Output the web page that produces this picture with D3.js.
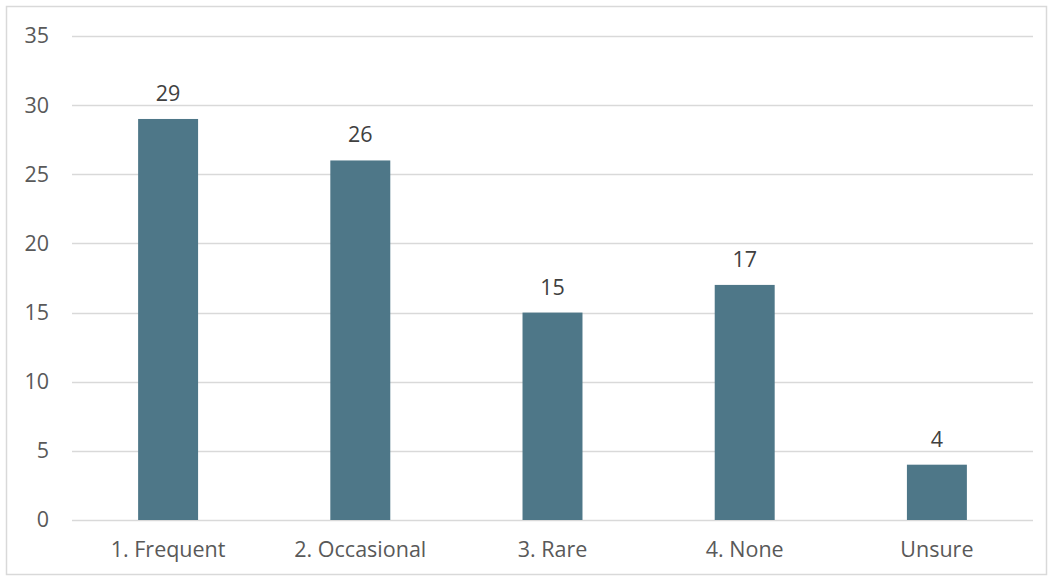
<!DOCTYPE html>
<html><head><meta charset="utf-8">
<script src="https://cdn.jsdelivr.net/npm/d3@7"></script>
<style>body{margin:0;background:#fff}svg{display:block}</style>
</head><body><svg id="c" width="1050" height="578"></svg>
<script>
const categories = ["1. Frequent", "2. Occasional", "3. Rare", "4. None", "Unsure"];
const values = [29, 26, 15, 17, 4];
const yTicks = [0, 5, 10, 15, 20, 25, 30, 35];

const svg = d3.select("#c");
const font = "'Open Sans', sans-serif";
const fs = 21.5;
const textColor = "#595959";
svg.append("rect").attr("x", 6.5).attr("y", 6.5).attr("width", 1040).attr("height", 568)
  .attr("fill", "#fff").attr("stroke", "#d9d9d9").attr("stroke-width", 1.5);

const x = d3.scaleBand().domain(categories).range([72, 1033]).paddingInner(0.688).paddingOuter(0.344);
const y = d3.scaleLinear().domain([0, 35]).range([520, 36]);

svg.append("g").selectAll("line").data(yTicks).join("line")
  .attr("x1", 72).attr("x2", 1033).attr("y1", d => Math.round(y(d)) + 0.5).attr("y2", d => Math.round(y(d)) + 0.5)
  .attr("stroke", "#d9d9d9").attr("stroke-width", 1.3);

const yAxis = svg.append("g").attr("transform", "translate(72,0)")
  .call(d3.axisLeft(y).tickValues(yTicks).tickSize(0).tickPadding(23));
yAxis.select(".domain").remove();
yAxis.selectAll("text").attr("font-family", font).attr("font-size", fs).attr("fill", textColor);

const xAxis = svg.append("g").attr("transform", "translate(0,520)")
  .call(d3.axisBottom(x).tickSize(0).tickPadding(22));
xAxis.select(".domain").remove();
xAxis.selectAll("text").attr("font-family", font).attr("font-size", fs).attr("fill", textColor);

svg.selectAll("rect.bar").data(categories).join("rect").attr("class", "bar")
  .attr("x", d => x(d)).attr("width", x.bandwidth())
  .attr("y", (d, i) => y(values[i])).attr("height", (d, i) => y(0) - y(values[i]))
  .attr("fill", "#4e7788");

svg.selectAll("text.val").data(categories).join("text").attr("class", "val")
  .attr("x", d => x(d) + x.bandwidth() / 2).attr("y", (d, i) => y(values[i]) - 18)
  .attr("text-anchor", "middle").attr("font-family", font).attr("font-size", fs).attr("fill", "#404040")
  .text((d, i) => values[i]);
</script></body></html>
